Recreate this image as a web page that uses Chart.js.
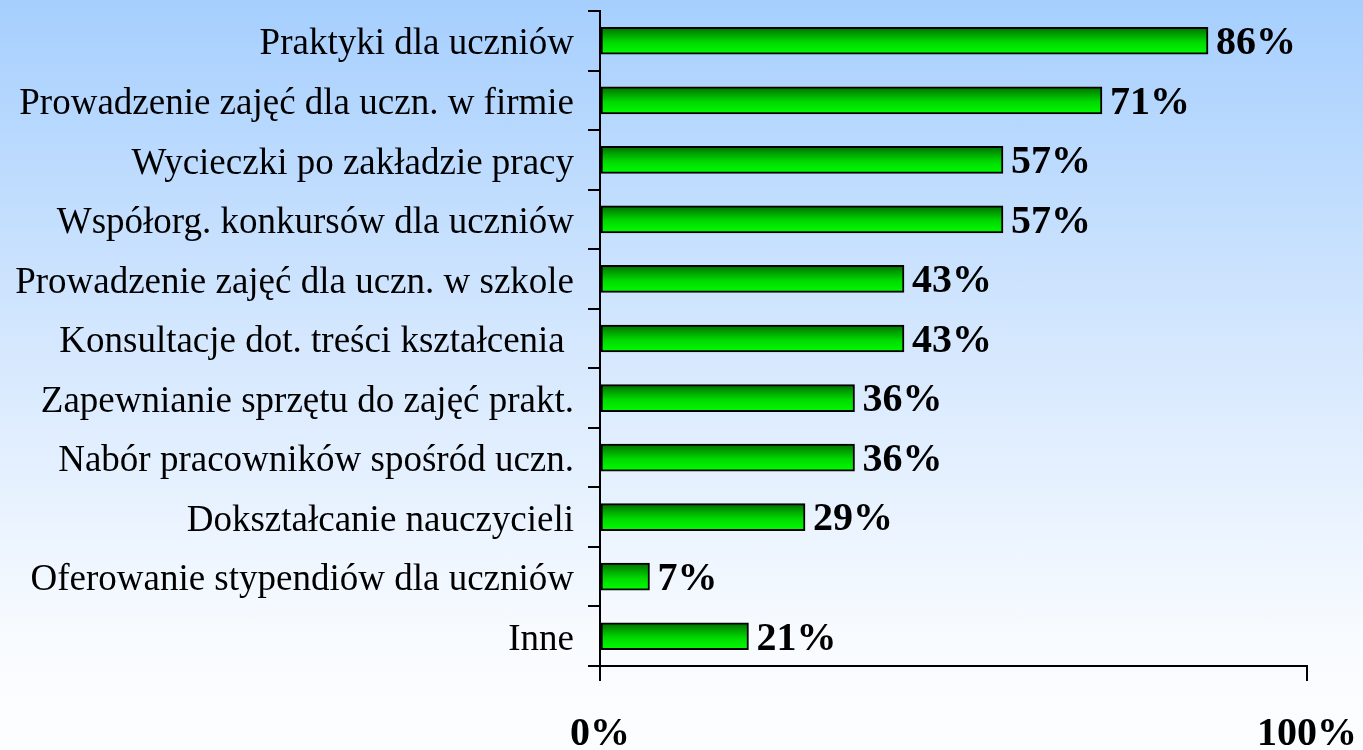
<!DOCTYPE html>
<html>
<head>
<meta charset="utf-8">
<script src="https://cdn.jsdelivr.net/npm/chart.js@4.4.1/dist/chart.umd.min.js"></script>
<style>
  html, body { margin: 0; padding: 0; }
  body {
    width: 1363px; height: 750px; overflow: hidden;
    background: linear-gradient(to bottom, #a6cffe 0%, #d4e7fe 45%, #f8fbff 85%, #fcfdff 100%);
  }
  #wrap { width: 1363px; height: 750px; position: relative; }
</style>
</head>
<body>
<div id="wrap"><canvas id="myChart"></canvas></div>
<script>
// dane
const categories = [
  "Praktyki dla uczniów",
  "Prowadzenie zajęć dla uczn. w firmie",
  "Wycieczki po zakładzie pracy",
  "Współorg. konkursów dla uczniów",
  "Prowadzenie zajęć dla uczn. w szkole",
  "Konsultacje dot. treści kształcenia ",
  "Zapewnianie sprzętu do zajęć prakt.",
  "Nabór pracowników spośród uczn.",
  "Dokształcanie nauczycieli",
  "Oferowanie stypendiów dla uczniów",
  "Inne"
];
const values = [86, 71, 57, 57, 43, 43, 36, 36, 29, 7, 21];
const xTicks = [0, 100];

const serif = "'Liberation Serif', 'Times New Roman', serif";

// etykiety z wartoscia za koncem slupka
const valueLabels = {
  id: "valueLabels",
  afterDatasetsDraw(chart) {
    const ctx = chart.ctx;
    const meta = chart.getDatasetMeta(0);
    ctx.save();
    ctx.font = "bold 40px " + serif;
    ctx.fillStyle = "#000";
    ctx.textAlign = "left";
    ctx.textBaseline = "middle";
    meta.data.forEach((bar, i) => {
      ctx.fillText(values[i] + "%", bar.x + 8, bar.y + 3);
    });
    ctx.restore();
  }
};

function barGradient(context) {
  const chart = context.chart;
  const y = chart.scales && chart.scales.y;
  if (!chart.chartArea || !y) return "#00c000";
  const c = y.getPixelForValue(context.dataIndex);
  const g = chart.ctx.createLinearGradient(0, c - 14, 0, c + 14);
  g.addColorStop(0, "#006a00");
  g.addColorStop(0.55, "#00d800");
  g.addColorStop(1, "#00ff00");
  return g;
}

const ctx = document.getElementById("myChart");
new Chart(ctx, {
  type: "bar",
  data: {
    labels: categories,
    datasets: [{
      data: values,
      backgroundColor: barGradient,
      borderColor: "#000",
      borderWidth: 2,
      borderSkipped: false,
      barThickness: 27
    }]
  },
  options: {
    indexAxis: "y",
    responsive: true,
    maintainAspectRatio: false,
    animation: false,
    layout: { padding: { top: 11, right: 56, left: 0, bottom: 0 } },
    plugins: {
      legend: { display: false },
      tooltip: { enabled: false }
    },
    scales: {
      x: {
        min: 0,
        max: 100,
        afterBuildTicks(scale) {
          scale.ticks = xTicks.map(v => ({ value: v }));
        },
        afterFit(scale) {
          scale.height = 84;
          scale.paddingLeft = 0;
          scale.paddingRight = 0;
        },
        border: { display: true, color: "#000", width: 2 },
        grid: { drawOnChartArea: false, color: "#000", lineWidth: 2, tickLength: 15 },
        ticks: {
          color: "#000",
          padding: 30,
          maxRotation: 0,
          font: { family: serif, size: 40, weight: "bold" },
          callback: v => v + "%"
        }
      },
      y: {
        afterFit(scale) {
          scale.width = 600;
          scale.paddingTop = 0;
          scale.paddingBottom = 0;
        },
        border: { display: true, color: "#000", width: 2 },
        grid: { drawOnChartArea: false, color: "#000", lineWidth: 2, tickLength: 12, offset: true },
        ticks: {
          color: "#000",
          padding: 14,
          labelOffset: 4,
          autoSkip: false,
          font: { family: serif, size: 37 }
        }
      }
    }
  },
  plugins: [valueLabels]
});
</script>
</body>
</html>
